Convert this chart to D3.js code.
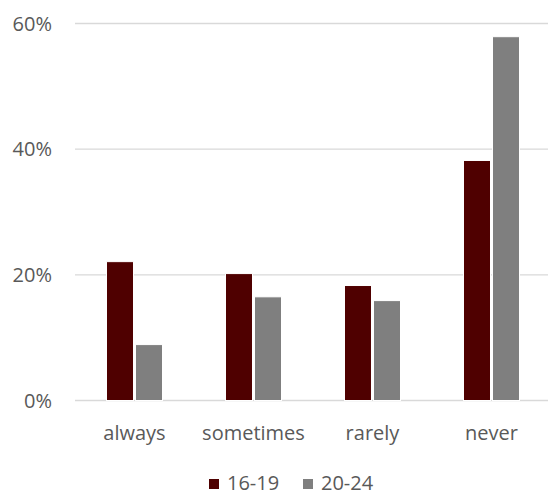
<!DOCTYPE html>
<html><head><meta charset="utf-8">
<script src="https://cdn.jsdelivr.net/npm/d3@7"></script>
<style>body{margin:0;background:#fff}svg{display:block}text{font-family:"Open Sans",sans-serif;fill:#595959}</style>
</head><body><svg id="c" width="548" height="495"></svg>
<script>
const categories = ["always","sometimes","rarely","never"];
const seriesNames = ["16-19","20-24"];
const values1619 = [22.1, 20.2, 18.3, 38.2];
const values2024 = [8.9, 16.5, 15.9, 57.9];
const yTicks = [0,20,40,60];
const colors = ["#4F0000","#7F7F7F"];

const svg = d3.select("#c");
const x = d3.scaleBand().domain(categories).range([75,551]).padding(0);
const y = d3.scaleLinear().domain([0,60]).range([400.5,23.5]);
const bw = 27;
const fs = 20;

svg.append("g").selectAll("line").data(yTicks).join("line")
  .attr("x1",75).attr("x2",551).attr("y1",d=>y(d)).attr("y2",d=>y(d))
  .attr("stroke","#D9D9D9").attr("stroke-width",1.3);

svg.append("g").selectAll("text").data(yTicks).join("text")
  .attr("x",52).attr("y",d=>y(d)+7).attr("text-anchor","end")
  .attr("font-size",fs).text(d=>d+"%");

const series = [values1619, values2024];
series.forEach((vals,si)=>{
  svg.append("g").selectAll("rect").data(categories).join("rect")
    .attr("x",c=>x(c)+x.bandwidth()/2 - bw - 1 + si*(bw+2))
    .attr("y",(c,i)=>y(vals[i]))
    .attr("width",bw).attr("height",(c,i)=>y(0)-y(vals[i]))
    .attr("fill",colors[si]).attr("stroke","#fff").attr("stroke-width",1);
});

svg.append("g").selectAll("text").data(categories).join("text")
  .attr("x",c=>x(c)+x.bandwidth()/2).attr("y",440).attr("text-anchor","middle")
  .attr("font-size",fs).text(c=>c);

const lx = [209, 303];
seriesNames.forEach((s,i)=>{
  svg.append("rect").attr("x",lx[i]).attr("y",479).attr("width",10).attr("height",10).attr("fill",colors[i]);
  svg.append("text").attr("x",lx[i]+18).attr("y",490).attr("font-size",fs).text(s);
});
</script></body></html>
